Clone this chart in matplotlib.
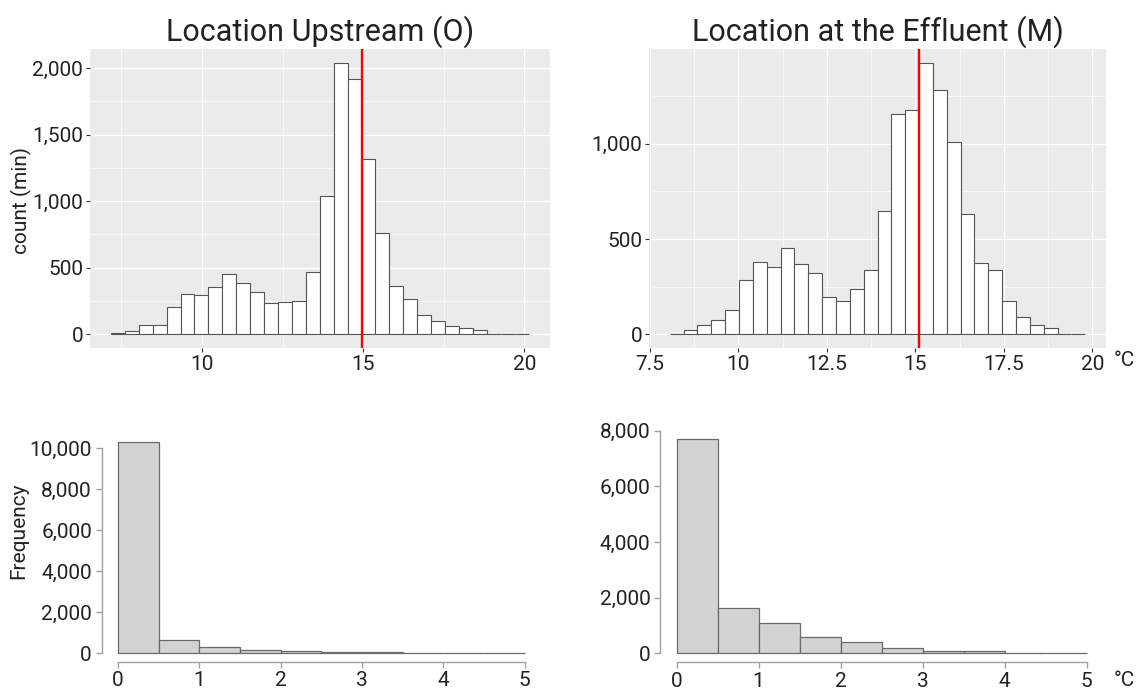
import numpy as np
import matplotlib
matplotlib.use('Agg')
from matplotlib import pyplot as plt
from matplotlib.ticker import FixedLocator, StrMethodFormatter

plt.rcParams['font.family'] = ['Roboto', 'DejaVu Sans']

# temperature histograms (30 bins each), counts in minutes
up_start, up_width = 7.18, 0.4316
up_counts = [12, 27, 67, 70, 204, 304, 294, 354, 454, 389, 319, 237, 244, 252, 466,
             1040, 2040, 1915, 1317, 761, 362, 262, 147, 100, 65, 47, 30, 5, 3, 3]
up_line = 14.95

eff_start, eff_width = 8.06, 0.3913
eff_counts = [3, 23, 47, 73, 126, 284, 382, 356, 454, 370, 323, 194, 173, 239, 339,
              649, 1157, 1175, 1426, 1281, 1007, 632, 377, 339, 173, 92, 51, 33, 3, 1]
eff_line = 15.10

# temperature differences, 0.5 degC bins from 0 to 5
diff_edges = [0, 0.5, 1, 1.5, 2, 2.5, 3, 3.5, 4, 4.5, 5]
up_diff = [10307, 660, 322, 177, 113, 64, 48, 16, 3, 1]
eff_diff = [7699, 1627, 1108, 602, 410, 193, 96, 72, 3, 1]

titles = ['Location Upstream (O)', 'Location at the Effluent (M)']

W, H = 1137, 691
fig = plt.figure(figsize=(W / 100, H / 100), dpi=100)
txt = '#222222'
fs = 15


def box(l, t, r, b):
    return [l / W, 1 - b / H, (r - l) / W, (b - t) / H]


def gg_hist(ax, start, width, counts, vline, title, xmaj, xmin, ymaj, ymin):
    edges = start + width * np.arange(len(counts) + 1)
    ax.hist(edges[:-1], bins=edges, weights=counts, color='white',
            edgecolor='#555555', linewidth=0.8, zorder=2)
    ax.axvline(vline, color='red', lw=1.7, zorder=3)
    ax.set_facecolor('#EBEBEB')
    for s in ax.spines.values():
        s.set_visible(False)
    lo, hi = edges[0], edges[-1]
    pad = 0.05 * (hi - lo)
    ax.set_xlim(lo - pad, hi + pad)
    top = max(counts)
    ax.set_ylim(-0.05 * top, 1.05 * top)
    ax.xaxis.set_major_locator(FixedLocator(xmaj))
    ax.xaxis.set_minor_locator(FixedLocator(xmin))
    ax.yaxis.set_major_locator(FixedLocator(ymaj))
    ax.yaxis.set_minor_locator(FixedLocator(ymin))
    ax.yaxis.set_major_formatter(StrMethodFormatter('{x:,.0f}'))
    ax.xaxis.set_major_formatter(StrMethodFormatter('{x:g}'))
    ax.grid(which='major', color='white', lw=0.9, zorder=0)
    ax.grid(which='minor', color='white', lw=0.5, zorder=0)
    ax.set_axisbelow(True)
    ax.tick_params(which='major', length=3, width=0.8, color='#333333',
                   labelsize=fs, labelcolor=txt, pad=2)
    ax.tick_params(which='minor', length=0)
    ax.set_title(title, fontsize=22, color=txt, pad=6)


ax1 = fig.add_axes(box(90, 49, 549.5, 348))
gg_hist(ax1, up_start, up_width, up_counts, up_line, titles[0],
        [10, 15, 20], [7.5, 12.5, 17.5],
        [0, 500, 1000, 1500, 2000], [250, 750, 1250, 1750])
fig.text(21 / W, 1 - 200 / H, 'count (min)', fontsize=fs, color=txt,
         rotation=90, ha='center', va='center')

ax2 = fig.add_axes(box(649, 49, 1106, 348))
gg_hist(ax2, eff_start, eff_width, eff_counts, eff_line, titles[1],
        [7.5, 10, 12.5, 15, 17.5, 20], [8.75, 11.25, 13.75, 16.25, 18.75],
        [0, 500, 1000], [250, 750, 1250])
fig.text(1124 / W, 1 - 360 / H, '°C', fontsize=fs, color=txt, ha='center', va='center')


def base_hist(ax, counts, ymaj):
    ax.hist(diff_edges[:-1], bins=diff_edges, weights=counts, color='#D3D3D3',
            edgecolor='#6a6a6a', linewidth=0.9)
    top = max(counts)
    ax.set_xlim(-0.2, 5.2)
    ax.set_ylim(-0.04 * top, 1.04 * top)
    for s in ['top', 'right']:
        ax.spines[s].set_visible(False)
    for s in ['left', 'bottom']:
        ax.spines[s].set_color('#a0a0a0')
        ax.spines[s].set_linewidth(1.0)
    ax.spines['left'].set_bounds(0, ymaj[-1])
    ax.spines['bottom'].set_bounds(0, 5)
    ax.set_xticks(range(6))
    ax.set_yticks(ymaj)
    ax.yaxis.set_major_formatter(StrMethodFormatter('{x:,.0f}'))
    ax.tick_params(axis='x', length=4, width=1.0, color='#a0a0a0',
                   labelsize=fs, labelcolor=txt, pad=3)
    ax.tick_params(axis='y', length=4, width=1.0, color='#a0a0a0',
                   labelsize=fs, labelcolor=txt, pad=3)
    ax.set_facecolor('white')


ax3 = fig.add_axes(box(101.7, 433.6, 540.8, 661.7))
base_hist(ax3, up_diff, [0, 2000, 4000, 6000, 8000, 10000])
fig.text(19 / W, 1 - 531 / H, 'Frequency', fontsize=fs, color=txt,
         rotation=90, ha='center', va='center')

ax4 = fig.add_axes(box(660.1, 430.4, 1102.9, 662))
base_hist(ax4, eff_diff, [0, 2000, 4000, 6000, 8000])
fig.text(1124 / W, 1 - 681 / H, '°C', fontsize=fs, color=txt, ha='center', va='center')

plt.savefig('out.png', dpi=100)
